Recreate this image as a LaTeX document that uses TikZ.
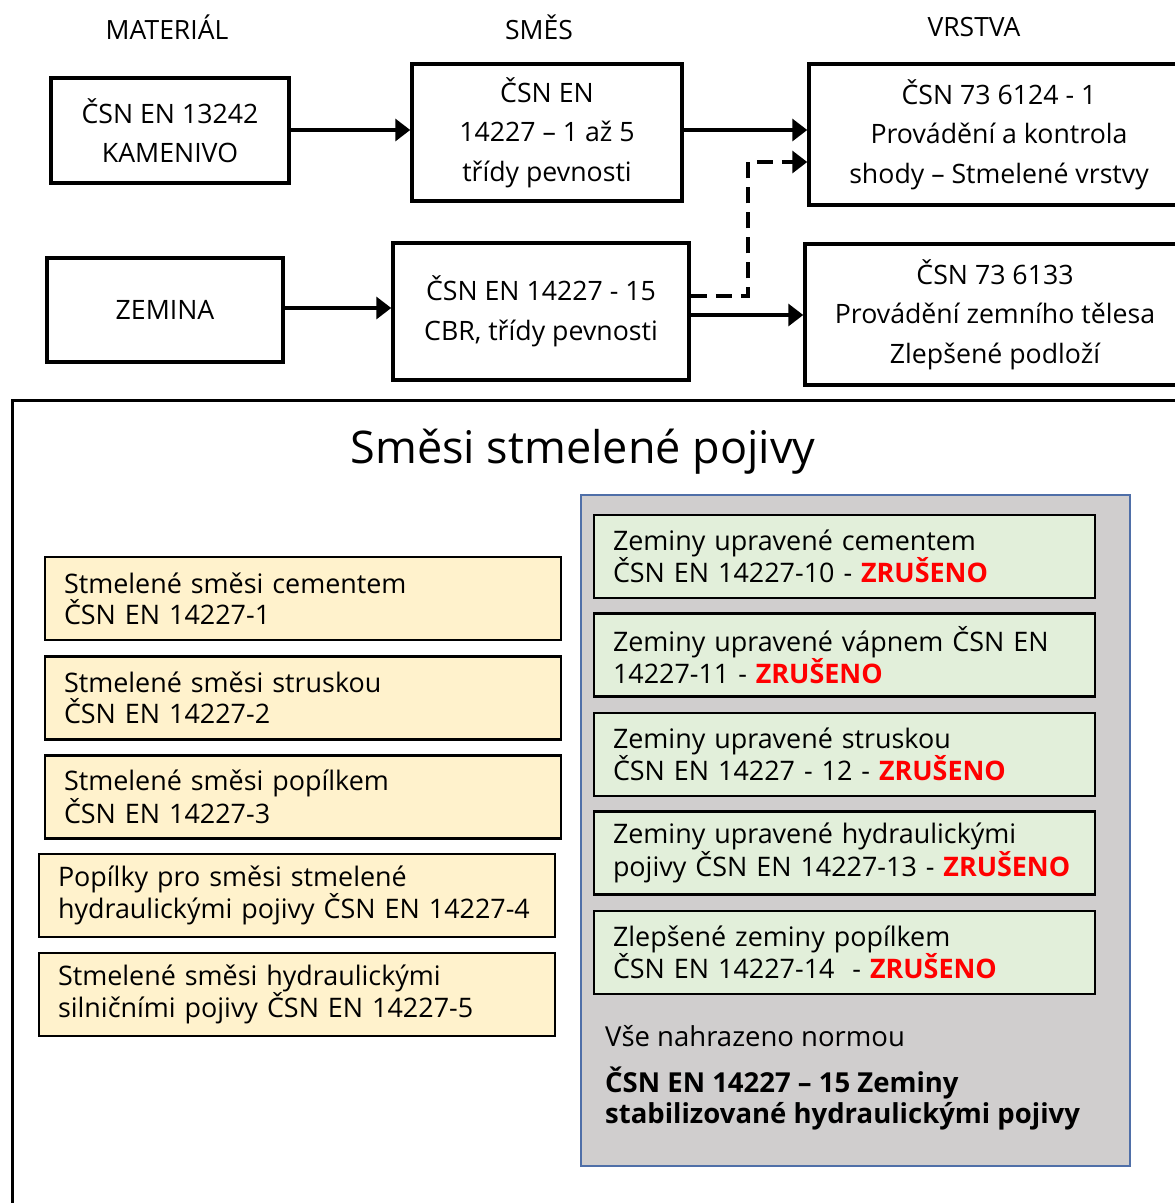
\documentclass[tikz,border=0pt]{standalone}
\usepackage{fontspec}
\setmainfont{Open Sans}
\usetikzlibrary{arrows.meta}
\definecolor{yel}{HTML}{FFF2CC}
\definecolor{grn}{HTML}{E2EFDA}
\definecolor{gry}{HTML}{D0CECE}
\definecolor{blu}{HTML}{4F6FA8}
\definecolor{red}{HTML}{FF0000}
\tikzset{
  topbox/.style={draw, line width=3.5pt, align=center, inner sep=0pt, font=\fontsize{26.7}{39.5}\selectfont},
  hdr/.style={font=\fontsize{26.5}{30}\selectfont, inner sep=0pt},
  arr/.style={line width=3.5pt, -{Triangle[length=15pt,width=22pt]}},
  darr/.style={line width=3.5pt, dash pattern=on 16pt off 9pt, -{Triangle[length=15pt,width=22pt]}},
  ybox/.style={draw, line width=2.5pt, fill=yel, minimum width=516pt, minimum height=83pt, text width=478pt, inner xsep=19pt, inner ysep=0pt, align=left, font=\fontsize{26.9}{31}\selectfont},
  gbox/.style={draw, line width=2.5pt, fill=grn, minimum width=501pt, minimum height=83pt, text width=463pt, inner xsep=19pt, inner ysep=0pt, align=left, font=\fontsize{26.9}{31}\selectfont},
}
\newcommand{\zrus}{\textcolor{red}{\textbf{ZRUŠENO}}}
\begin{document}
\begin{tikzpicture}[x=1pt,y=-1pt]
\useasboundingbox (0,0) rectangle (1175,1203);
\clip (0,0) rectangle (1175,1203);
% headers
\node[hdr] (h1) at (167,27) {MATERIÁL};
\node[hdr] (h2) at (539,27) {SMĚS};
\node[hdr] (h3) at (974,27) {VRSTVA};
% top boxes
\node[topbox, minimum width=238pt, minimum height=105pt] (b1) at (170,130.5) {ČSN EN 13242\\KAMENIVO};
\node[topbox, minimum width=270pt, minimum height=137pt] (b2) at (547,132.5) {ČSN EN\\14227 – 1 až 5\\třídy pevnosti};
\node[topbox, minimum width=380pt, minimum height=141pt] (b3) at (999,134.5) {ČSN 73 6124 - 1\\Provádění a kontrola\\shody – Stmelené vrstvy};
\node[topbox, minimum width=236pt, minimum height=104pt] (b4) at (165,310) {ZEMINA};
\node[topbox, minimum width=296pt, minimum height=137pt] (b5) at (541,311.5) {ČSN EN 14227 - 15\\CBR, třídy pevnosti};
\node[topbox, minimum width=380pt, minimum height=141pt] (b6) at (995,314.5) {ČSN 73 6133\\Provádění zemního tělesa\\Zlepšené podloží};
% arrows
\draw[arr] (b1.east |- 0,130) -- (b2.west |- 0,130);
\draw[arr] (b2.east |- 0,130) -- (b3.west |- 0,130);
\draw[arr] (b4.east |- 0,308) -- (b5.west |- 0,308);
\draw[arr] (b5.east |- 0,315) -- (b6.west |- 0,315);
\coordinate (bend) at (748,162);
\draw[darr] (b5.east |- 0,296) -| (bend) -- (b3.west |- bend);
% lower frame
\draw[line width=3pt] (12,1215) -- (12,400) -- (1190,400);
\node[font=\fontsize{45}{52}\selectfont, inner sep=0pt] (title) at (583,452) {Směsi stmelené pojivy};
% gray panel
\node[draw=blu, line width=2pt, fill=gry, minimum width=549pt, minimum height=671pt, inner sep=0pt] (panel) at (855.5,830.5) {};
\node[gbox] (g1) at (844.5,556.5) {Zeminy upravené cementem\\ČSN EN 14227-10 - \zrus};
\node[gbox] (g2) at (844.5,655) {Zeminy upravené vápnem ČSN EN\\14227-11 - \zrus};
\node[gbox] (g3) at (844.5,754.5) {Zeminy upravené struskou\\ČSN EN 14227 - 12 - \zrus};
\node[gbox] (g4) at (844.5,853) {Zeminy upravené hydraulickými\\pojivy ČSN EN 14227-13 - \zrus};
\node[gbox] (g5) at (844.5,952.5) {Zlepšené zeminy popílkem\\ČSN EN 14227-14 \ - \zrus};
\node[anchor=west, inner sep=0pt, font=\fontsize{27.5}{31}\selectfont] (nahr) at (605,1036) {Vše nahrazeno normou};
\node[anchor=west, inner sep=0pt, align=left, font=\fontsize{27.5}{31}\selectfont\bfseries] (nova) at (605,1098.5) {ČSN EN 14227 – 15 Zeminy\\stabilizované hydraulickými pojivy};
% yellow boxes
\node[ybox] (y1) at (303,598.5) {Stmelené směsi cementem\\ČSN EN 14227-1};
\node[ybox] (y2) at (303,698) {Stmelené směsi struskou\\ČSN EN 14227-2};
\node[ybox] (y3) at (303,797) {Stmelené směsi popílkem\\ČSN EN 14227-3};
\node[ybox] (y4) at (297,895.5) {Popílky pro směsi stmelené\\hydraulickými pojivy ČSN EN 14227-4};
\node[ybox] (y5) at (297,994.5) {Stmelené směsi hydraulickými\\silničními pojivy ČSN EN 14227-5};
\end{tikzpicture}
\end{document}
